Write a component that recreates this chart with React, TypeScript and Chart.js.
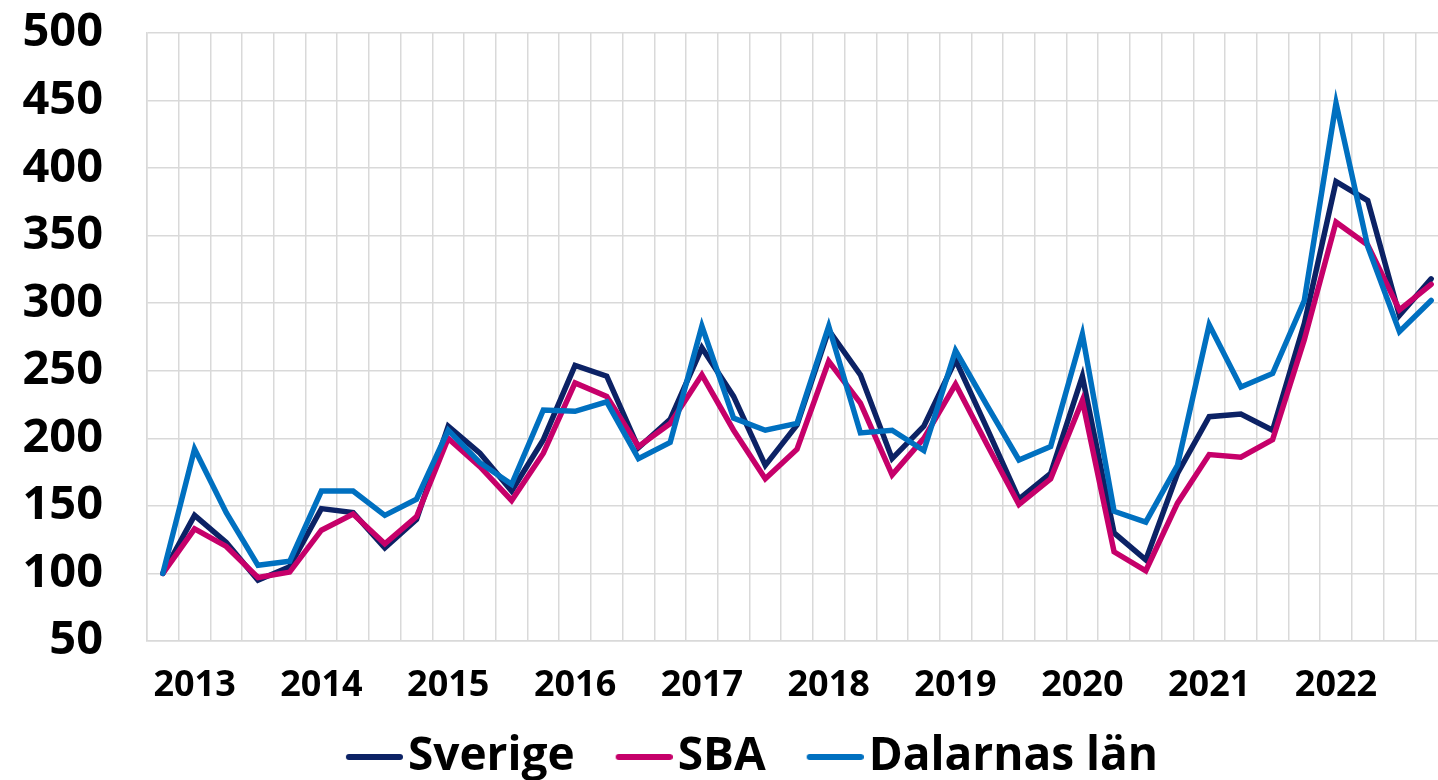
import React, { useEffect, useRef } from 'react';
import { Chart, registerables } from 'chart.js';

Chart.register(...registerables);

const years = ['2013', '2014', '2015', '2016', '2017', '2018', '2019', '2020', '2021', '2022'];

const sverige = [100, 143, 123, 95, 105, 148, 145, 119, 140, 209, 189, 161, 199, 254, 246, 193, 214, 267, 231, 180, 210, 280, 247, 185, 209, 258, 207, 155, 174, 246, 130, 110, 174, 216, 218, 206, 285, 390, 376, 291, 318];
const sba = [100, 133, 120, 97, 101, 132, 144, 122, 142, 200, 179, 154, 189, 241, 231, 194, 211, 247, 206, 170, 192, 257, 226, 173, 200, 240, 195, 151, 170, 228, 116, 102, 152, 188, 186, 199, 273, 360, 343, 295, 314];
const dalarna = [100, 192, 145, 106, 109, 161, 161, 143, 155, 206, 182, 166, 221, 220, 227, 185, 197, 283, 215, 206, 211, 283, 204, 206, 191, 265, 224, 184, 194, 277, 146, 138, 180, 284, 238, 248, 302, 448, 342, 279, 302];

const seriesNames = ['Sverige', 'SBA', 'Dalarnas län'];
const seriesColors = ['#0c2265', '#c6006a', '#0070c0'];
const seriesOrder = [2, 1, 0];

const yMin = 50;
const yMax = 500;
const yStep = 50;

const labels: string[] = [''].concat(...years.map((y) => [y, '', '', '']));

const FONT = '"Open Sans", "DejaVu Sans", sans-serif';
const GRID = '#d9d9d9';

const LEG_P = 3;
const LEG_BW = 80 - LEG_P;
const LEG_LINE = 57;

function legendLine(color: string) {
  const c = document.createElement('canvas');
  const w = LEG_BW + 36;
  c.width = w;
  c.height = 8;
  const ctx = c.getContext('2d')!;
  ctx.strokeStyle = color;
  ctx.lineWidth = 6;
  ctx.lineCap = 'round';
  ctx.beginPath();
  ctx.moveTo(w - LEG_LINE + 3, 4);
  ctx.lineTo(w - 3, 4);
  ctx.stroke();
  return c;
}

export default function App() {
  const ref = useRef<HTMLCanvasElement>(null);

  useEffect(() => {
    if (!ref.current) return;
    const series = [sverige, sba, dalarna];
    const chart = new Chart(ref.current, {
      type: 'line',
      data: {
        labels,
        datasets: series.map((d, i) => ({
          label: seriesNames[i],
          data: d,
          borderColor: seriesColors[i],
          backgroundColor: seriesColors[i],
          borderWidth: 5.5,
          pointRadius: 0,
          pointHoverRadius: 0,
          pointStyle: legendLine(seriesColors[i]) as any,
          order: seriesOrder[i],
          tension: 0,
          borderCapStyle: 'round' as const,
          fill: false,
        })),
      },
      options: {
        responsive: false,
        animation: false,
        events: [],
        layout: { padding: { top: 33, left: 0, right: 0, bottom: 0 } },
        plugins: {
          legend: {
            position: 'bottom',
            labels: {
              usePointStyle: true,
              pointStyleWidth: LEG_BW,
              padding: LEG_P,
              color: '#000',
              font: { family: FONT, size: 46, weight: 'bold' },
              sort: (a: any, b: any) => a.datasetIndex - b.datasetIndex,
            },
          },
          tooltip: { enabled: false },
        },
        scales: {
          x: {
            offset: true,
            grid: { offset: true, color: GRID, lineWidth: 1.5, drawTicks: false },
            border: { color: GRID, width: 1.5 },
            ticks: {
              autoSkip: false,
              maxRotation: 0,
              minRotation: 0,
              padding: 10,
              color: '#000',
              font: { family: FONT, size: 36, weight: 'bold', lineHeight: 70 / 36 },
            },
          },
          y: {
            min: yMin,
            max: yMax,
            grid: {
              color: GRID,
              lineWidth: 1.5,
              drawTicks: true,
              tickLength: 44,
              tickColor: 'rgba(0,0,0,0)',
            },
            border: { color: GRID, width: 1.5 },
            ticks: {
              stepSize: yStep,
              padding: 0,
              color: '#000',
              font: { family: FONT, size: 47, weight: 'bold' },
            },
            afterFit: (s: any) => {
              s.width = 147;
            },
          },
          y2: {
            position: 'right',
            display: true,
            grid: { display: false, drawTicks: false },
            border: { display: false },
            ticks: { display: false },
            afterFit: (s: any) => {
              s.width = 19;
            },
          },
        },
      },
    });
    return () => chart.destroy();
  }, []);

  return (
    <div
      style={{
        position: 'fixed',
        left: 0,
        top: 0,
        width: 1438,
        height: 780,
        overflow: 'hidden',
        background: '#fff',
      }}
    >
      <canvas ref={ref} width={1466} height={790} style={{ display: 'block', width: 1466, height: 790 }} />
    </div>
  );
}
